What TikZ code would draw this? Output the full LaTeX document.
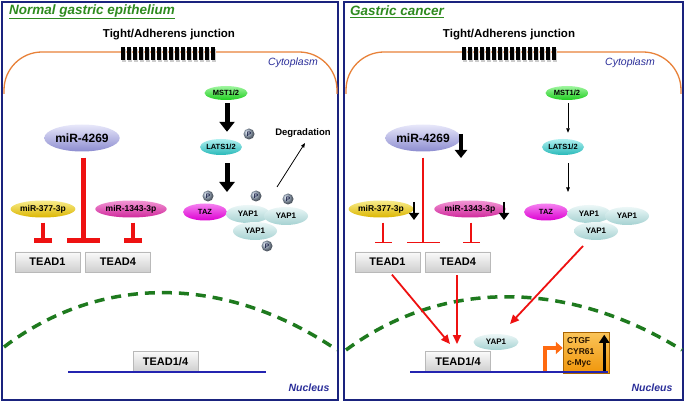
\documentclass[tikz,border=0pt]{standalone}
\usepackage{fontspec}
\setmainfont{Liberation Sans}
\usetikzlibrary{shapes.geometric,arrows.meta}
\definecolor{panelblue}{HTML}{1A237E}
\definecolor{titlegreen}{HTML}{2E8B1F}
\definecolor{membrane}{HTML}{E8823A}
\definecolor{labelblue}{HTML}{2B2F9A}
\definecolor{inhred}{HTML}{EE1111}
\definecolor{nucgreen}{HTML}{1E7A1E}
\definecolor{promorange}{HTML}{FF6A10}
\definecolor{lineblue}{HTML}{2424B0}
\definecolor{pgray}{HTML}{A4B4C8}
\tikzset{
 panel/.style={draw=panelblue, line width=1.6pt},
 titletext/.style={font=\bfseries\itshape\fontsize{13.5}{15}\selectfont, text=titlegreen, inner sep=0pt, anchor=west},
 memb/.style={draw=membrane, line width=1.3pt, rounded corners=38pt},
 junct/.style={font=\bfseries\fontsize{11.5}{13}\selectfont, inner sep=0pt},
 cyto/.style={font=\itshape\fontsize{10.5}{12}\selectfont, text=labelblue, inner sep=0pt},
 nuclabel/.style={font=\bfseries\itshape\fontsize{10.5}{12}\selectfont, text=labelblue, inner sep=0pt},
 nucmem/.style={draw=nucgreen, line width=3.5pt, dash pattern=on 10pt off 7pt},
 dna/.style={draw=lineblue, line width=1.6pt},
 prot/.style={ellipse, inner sep=0pt, font=\bfseries\fontsize{7.5}{8}\selectfont},
 mst/.style={prot, minimum width=43pt, minimum height=14pt, top color={rgb,255:red,160;green,246;blue,160}, bottom color={rgb,255:red,30;green,205;blue,30}},
 lats/.style={prot, minimum width=42pt, minimum height=16pt, top color={rgb,255:red,176;green,240;blue,240}, bottom color={rgb,255:red,40;green,185;blue,185}},
 taz/.style={prot, font=\bfseries\fontsize{7.5}{8}\selectfont, minimum width=44pt, minimum height=17pt, top color={rgb,255:red,245;green,130;blue,240}, bottom color={rgb,255:red,220;green,0;blue,210}},
 yap/.style={prot, font=\bfseries\fontsize{8}{9}\selectfont, minimum width=44pt, minimum height=18pt, top color={rgb,255:red,236;green,247;blue,247}, bottom color={rgb,255:red,165;green,210;blue,210}},
 mfour/.style={prot, font=\bfseries\fontsize{12}{14}\selectfont, minimum width=71pt, minimum height=27pt, top color={rgb,255:red,232;green,232;blue,250}, bottom color={rgb,255:red,140;green,140;blue,208}},
 mthree/.style={prot, font=\bfseries\fontsize{8.5}{10}\selectfont, minimum width=63pt, minimum height=17pt, top color={rgb,255:red,248;green,236;blue,140}, bottom color={rgb,255:red,220;green,182;blue,0}},
 mone/.style={prot, font=\bfseries\fontsize{8.5}{10}\selectfont, minimum width=65pt, minimum height=17pt, top color={rgb,255:red,242;green,150;blue,212}, bottom color={rgb,255:red,208;green,40;blue,156}},
 pcirc/.style={circle, inner sep=0pt, minimum size=11pt, shading=ball, ball color=pgray, font=\bfseries\fontsize{6.5}{7}\selectfont, text={rgb,255:red,15;green,20;blue,60}},
 tead/.style={rectangle, inner sep=0pt, minimum width=65pt, minimum height=20pt, top color=gray!4, bottom color=gray!38, draw=gray!55, line width=0.6pt, font=\bfseries\fontsize{11}{13}\selectfont},
 degr/.style={font=\bfseries\fontsize{9.5}{11}\selectfont, inner sep=0pt},
 thickarr/.style={draw=black, line width=5pt, -{Triangle[length=10pt,width=15pt]}},
 thinarr/.style={draw=black, line width=0.8pt, -{Triangle[length=4.5pt,width=3.5pt]}},
 downind/.style={draw=black, line width=2.6pt, -{Triangle[length=7pt,width=10pt]}},
 inhthick/.style={draw=inhred, line width=5pt, -{Bar[width=33pt,line width=5pt]}},
 inhmid/.style={draw=inhred, line width=4.5pt, -{Bar[width=18pt,line width=4.5pt]}},
 inhthin/.style={draw=inhred, line width=1.1pt, -{Bar[width=33pt,line width=1.1pt]}},
 inhthinsm/.style={draw=inhred, line width=1.1pt, -{Bar[width=17pt,line width=1.1pt]}},
 actred/.style={draw=inhred, line width=1.8pt, -{Triangle[length=9pt,width=8pt]}},
 genebox/.style={rectangle, minimum width=46pt, minimum height=41pt, inner sep=4pt, text width=38pt, align=left, top color={rgb,255:red,250;green,196;blue,90}, bottom color={rgb,255:red,240;green,150;blue,10}, draw={rgb,255:red,170;green,100;blue,0}, line width=0.5pt, font=\bfseries\fontsize{8.5}{11}\selectfont, text={rgb,255:red,40;green,20;blue,0}},
}
\begin{document}
\begin{tikzpicture}[x=1pt,y=-1pt]
\useasboundingbox (0,0) rectangle (685,403);
\fill[white] (0,0) rectangle (685,403);
% panels
\draw[panel] (2,2) rectangle (338,400);
\draw[panel] (344,2) rectangle (683,400);
% titles
\node[titletext] (titleL) at (9,12) {\underline{Normal gastric epithelium}};
\node[titletext] (titleR) at (350,12) {\underline{Gastric cancer}};
% membranes
\draw[memb] (4,94) -- (4,52) -- (337,52) -- (337,94);
\draw[memb] (346,94) -- (346,52) -- (681,52) -- (681,94);
% junctions
\foreach \i in {0,...,15} {
  \fill[gray!40] (122+6*\i,49) rectangle ++(4,13);
  \fill[black] (121+6*\i,47) rectangle ++(4,13);
  \fill[gray!40] (463+6*\i,49) rectangle ++(4,13);
  \fill[black] (462+6*\i,47) rectangle ++(4,13);
}
\node[junct] (juncL) at (169,35) {Tight/Adherens junction};
\node[junct] (juncR) at (509,35) {Tight/Adherens junction};
\node[cyto] (cytoL) at (293,63) {Cytoplasm};
\node[cyto] (cytoR) at (630,63) {Cytoplasm};
% nucleus membranes
\draw[nucmem] (4,347) .. controls (100,274) and (225,274) .. (337,350);
\draw[nucmem] (346,350) .. controls (442,279) and (567,279) .. (682,350);
\node[nuclabel] (nucL) at (309,388) {Nucleus};
\node[nuclabel] (nucR) at (652,388) {Nucleus};

% ---------- LEFT PANEL ----------
\node[mst] (mstL) at (226,93) {MST1/2};
\node[lats] (latsL) at (221,147) {LATS1/2};
\coordinate (hipL) at (227,192);
\draw[thickarr, shorten <=3pt, shorten >=7pt] (mstL.south -| hipL) -- (latsL.north -| hipL);
\draw[thickarr, shorten <=8pt] (latsL.south -| hipL) -- (hipL);
\node[pcirc] (pLats) at (249,134) {P};
\node[taz] (tazL) at (205,212) {TAZ};
\node[yap] (yapaL) at (248,214) {YAP1};
\node[yap] (yapbL) at (286,216) {YAP1};
\node[yap] (yapcL) at (255,231) {YAP1};
\node[pcirc] (pTaz) at (208,196) {P};
\node[pcirc] (pYa) at (256,196) {P};
\node[pcirc] (pYb) at (288,199) {P};
\node[pcirc] (pYc) at (267,246) {P};
\node[degr] (degL) at (303,133) {Degradation};
\coordinate (degS) at (277,187);
\coordinate (degE) at (305,143);
\draw[thinarr] (degS) -- (degE);

\node[mfour] (m4L) at (82,138) {miR-4269};
\node[mthree] (m3L) at (43,209) {miR-377-3p};
\node[mone] (m13L) at (131,209) {miR-1343-3p};
\coordinate (b4L) at (83,243);
\coordinate (b3L) at (43,243);
\coordinate (b13L) at (133,243);
\draw[inhthick, shorten <=6pt] (m4L.south -| b4L) -- (b4L);
\draw[inhmid, shorten <=5pt] (m3L.south -| b3L) -- (b3L);
\draw[inhmid, shorten <=5pt] (m13L.south -| b13L) -- (b13L);
\node[tead] (t1L) at (47.5,262) {TEAD1};
\node[tead] (t4L) at (118,262) {TEAD4};
\node[tead] (t14L) at (165.5,361.5) {TEAD1/4};
\coordinate (dnaLa) at (68,372);
\coordinate (dnaLb) at (266,372);
\draw[dna] (dnaLa) -- (dnaLb);

% ---------- RIGHT PANEL ----------
\node[mst] (mstR) at (567,93) {MST1/2};
\node[lats] (latsR) at (563,147) {LATS1/2};
\coordinate (hipR) at (568,192);
\draw[thinarr, shorten <=3pt, shorten >=6pt] (mstR.south -| hipR) -- (latsR.north -| hipR);
\draw[thinarr, shorten <=8pt] (latsR.south -| hipR) -- (hipR);
\node[taz] (tazR) at (546,212) {TAZ};
\node[yap] (yapaR) at (589,214) {YAP1};
\node[yap] (yapbR) at (627,216) {YAP1};
\node[yap] (yapcR) at (596,231) {YAP1};

\node[mfour] (m4R) at (423,138) {miR-4269};
\node[mthree] (m3R) at (381,209) {miR-377-3p};
\node[mone] (m13R) at (470,209) {miR-1343-3p};
\coordinate (d4a) at (461,134);
\coordinate (d4b) at (461,158);
\draw[downind, line width=3.2pt, -{Triangle[length=8pt,width=12pt]}] (d4a) -- (d4b);
\coordinate (d3a) at (414,202);
\coordinate (d3b) at (414,220);
\draw[downind] (d3a) -- (d3b);
\coordinate (d13a) at (504,202);
\coordinate (d13b) at (504,220);
\draw[downind] (d13a) -- (d13b);
\coordinate (b4R) at (423,243);
\coordinate (b3R) at (383,243);
\coordinate (b13R) at (471,243);
\draw[inhthin, shorten <=6pt] (m4R.south -| b4R) -- (b4R);
\draw[inhthinsm, shorten <=5pt] (m3R.south -| b3R) -- (b3R);
\draw[inhthinsm, shorten <=5pt] (m13R.south -| b13R) -- (b13R);
\node[tead] (t1R) at (387.5,262) {TEAD1};
\node[tead] (t4R) at (458,262) {TEAD4};
\node[tead] (t14R) at (458,361.5) {TEAD1/4};
\node[yap, minimum width=45pt, minimum height=16pt] (yapN) at (496,342) {YAP1};
\coordinate (a1e) at (450,344);
\coordinate (a2e) at (457,344);
\coordinate (a3s) at (583,246);
\coordinate (a3e) at (510,324);
\draw[actred, shorten <=3pt] ([xshift=2.5pt]t1R.south) -- (a1e);
\draw[actred, shorten <=3pt] ([xshift=-1pt]t4R.south) -- (a2e);
\draw[actred] (a3s) -- (a3e);
\coordinate (dnaRa) at (410,372);
\coordinate (dnaRb) at (608,372);
\node[genebox] (gene) at (586,352.5) {CTGF\\CYR61\\c-Myc};
\draw[downind, -{Triangle[length=8pt,width=10pt]}] ([xshift=-5pt,yshift=2pt]gene.south east) -- ([xshift=-5pt,yshift=-3pt]gene.north east);
\coordinate (prom) at (545,372);
\draw[draw=promorange, line width=4.5pt, -{Triangle[length=7pt,width=12pt]}] (prom) |- ([yshift=4.5pt]gene.west);
\draw[dna] (dnaRa) -- (dnaRb);
\end{tikzpicture}
\end{document}
